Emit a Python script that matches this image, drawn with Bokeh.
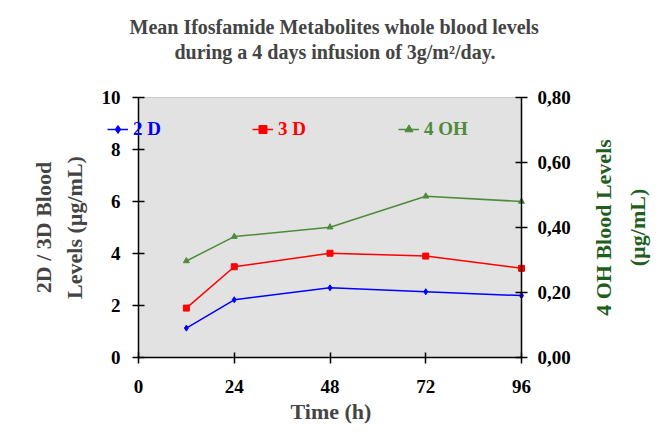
import math
from bokeh.plotting import figure
from bokeh.models import (Range1d, LinearAxis, FixedTicker, CustomJSTickFormatter,
                          Legend, LegendItem, Title, Label)
from bokeh.embed import file_html
from bokeh.resources import INLINE

# ---- data ----
hours = [12, 24, 48, 72, 96]
d2 = [1.13, 2.22, 2.68, 2.53, 2.38]
d3 = [1.90, 3.49, 4.01, 3.90, 3.43]
oh = [0.297, 0.372, 0.401, 0.496, 0.480]
x_ticks = [0, 24, 48, 72, 96]
left_ticks = [0, 2, 4, 6, 8, 10]
right_ticks = [0.0, 0.2, 0.4, 0.6, 0.8]

BLUE = "#0000ff"
RED = "#ff0000"
GREEN = "#4e8a3c"
DKGREEN = "#1f5e1f"
FONT = "Liberation Serif"

# The frame is wider than the grey plot area (x 0..96) on both sides, so that the
# "2 D" legend entry and the right-hand label can be drawn without being clipped.
FRAME_L, AXIS_L, AXIS_R, FRAME_R = 95, 138, 521, 655
W, H = 662, 425
px_per_h = (AXIS_R - AXIS_L) / x_ticks[-1]
x_start = -(AXIS_L - FRAME_L) / px_per_h
x_end = x_ticks[-1] + (FRAME_R - AXIS_R) / px_per_h

p = figure(width=W, height=H, output_backend="svg", toolbar_location=None,
           x_range=Range1d(x_start, x_end), y_range=Range1d(left_ticks[0], left_ticks[-1]),
           frame_width=FRAME_R - FRAME_L, frame_height=260,
           min_border_left=FRAME_L, min_border_right=W - FRAME_R, min_border_top=97,
           min_border_bottom=68)
p.extra_y_ranges = {"oh": Range1d(right_ticks[0], right_ticks[-1])}
p.background_fill_color = "white"
p.border_fill_color = "white"
p.outline_line_color = None
p.xgrid.visible = False
p.ygrid.visible = False

# grey plot area (x 0..96, y 0..10)
p.quad(left=[x_ticks[0]], right=[x_ticks[-1]], bottom=[left_ticks[0]], top=[left_ticks[-1]],
       fill_color="#e2e2e2", line_color="#a0a0a0", line_width=1, level="underlay")

def style_axis(ax):
    ax.major_label_text_font = FONT
    ax.major_label_text_font_size = "19px"
    ax.major_label_text_font_style = "bold"
    ax.major_label_text_color = "black"
    ax.axis_label_text_font = FONT
    ax.axis_label_text_font_size = "22px"
    ax.axis_label_text_font_style = "bold"
    ax.major_tick_in = 5
    ax.major_tick_out = 6
    ax.minor_tick_in = 0
    ax.minor_tick_out = 0
    ax.axis_line_color = "black"
    ax.axis_line_width = 1.5
    ax.major_tick_line_color = "black"
    ax.major_tick_line_width = 1.5

def labels_only(ax):
    ax.axis_line_color = None
    ax.major_tick_in = 0
    ax.major_tick_out = 0

xa = p.xaxis[0]
xa.ticker = FixedTicker(ticks=x_ticks)
xa.bounds = (x_ticks[0], x_ticks[-1])
style_axis(xa)
xa.major_label_standoff = 16

# left tick labels (side panel axis, labels pushed right to sit beside x = 0)
ya = p.yaxis[0]
ya.ticker = FixedTicker(ticks=left_ticks)
style_axis(ya)
labels_only(ya)
ya.major_label_standoff = -(AXIS_L - FRAME_L - 18)

# tick-less axis carrying the left label
lab = LinearAxis(ticker=FixedTicker(ticks=[]), axis_label="2D / 3D Blood\nLevels (\u00b5g/mL)")
style_axis(lab)
labels_only(lab)
lab.axis_label_text_line_height = 1.22
lab.major_label_text_font_size = "0px"
lab.axis_label_standoff = 9
p.add_layout(lab, "left")

# right tick labels (side panel axis, labels pulled left to sit beside x = 96)
ra = LinearAxis(y_range_name="oh", ticker=FixedTicker(ticks=right_ticks),
                formatter=CustomJSTickFormatter(code="return tick.toFixed(2).replace('.', ',');"))
style_axis(ra)
labels_only(ra)
ra.major_label_standoff = -(FRAME_R - AXIS_R - 16)
p.add_layout(ra, "right")

# vertical axis lines at x = 0 and x = 96, with crossing ticks
edges = [x_ticks[0], x_ticks[-1]]
p.segment(x0=edges, y0=[left_ticks[0]] * 2, x1=edges, y1=[left_ticks[-1]] * 2,
          line_color="black", line_width=1.5, level="overlay")
p.scatter([x_ticks[0]] * len(left_ticks), left_ticks, marker="dash", size=12,
          line_color="black", line_width=1.5, level="overlay")
p.scatter([x_ticks[-1]] * len(right_ticks), right_ticks, marker="dash", size=12,
          line_color="black", line_width=1.5, level="overlay", y_range_name="oh")

# right-hand axis title, reading upwards
p.add_layout(Label(x=(620 - AXIS_L) / px_per_h, y=(left_ticks[0] + left_ticks[-1]) / 2,
                   text="4 OH Blood Levels\n(\u00b5g/mL)", angle=math.pi / 2,
                   text_align="center", text_baseline="middle", text_line_height=1.35,
                   text_font=FONT, text_font_size="22px", text_font_style="bold",
                   text_color=DKGREEN))

l2 = p.line(hours, d2, line_color=BLUE, line_width=1.5)
s2 = p.scatter(hours, d2, marker="diamond", size=6, color=BLUE)
l3 = p.line(hours, d3, line_color=RED, line_width=1.5)
s3 = p.scatter(hours, d3, marker="square", size=6, color=RED)
l4 = p.line(hours, oh, line_color=GREEN, line_width=1.5, y_range_name="oh")
s4 = p.scatter(hours, oh, marker="triangle", size=6, color=GREEN, y_range_name="oh")

def make_legend(label, rends, color, loc):
    return Legend(items=[LegendItem(label=label, renderers=rends)], location=loc,
                  orientation="horizontal", padding=0, margin=0, spacing=0,
                  glyph_width=21, glyph_height=20, label_standoff=5,
                  label_text_font=FONT, label_text_font_size="19px",
                  label_text_font_style="bold", label_text_color=color,
                  background_fill_alpha=0, border_line_alpha=0)

p.add_layout(make_legend("2 D", [l2, s2], BLUE, (12, 217)), "center")
p.add_layout(make_legend("3 D", [l3, s3], RED, (157, 217)), "center")
p.add_layout(make_legend("4 OH", [l4, s4], GREEN, (303, 217)), "center")

# titles: first added sits nearest the plot
tfont = dict(text_font=FONT, text_font_size="20px", text_font_style="bold", align="left")
p.add_layout(Title(text=" ", text_font_size="2px", standoff=30), "above")  # spacer
p.add_layout(Title(text="during a 4 days infusion of 3g/m\u00b2/day.", offset=79, standoff=2, **tfont), "above")
p.add_layout(Title(text="Mean Ifosfamide Metabolites whole blood levels", offset=34, standoff=0, **tfont), "above")

# x axis label, centred under the 0..96 span
p.add_layout(Title(text="Time (h)", text_font=FONT, text_font_size="22px", text_font_style="bold",
                   align="left", vertical_align="top", offset=195, standoff=6), "below")

open("out.html", "w").write(file_html(p, INLINE))
